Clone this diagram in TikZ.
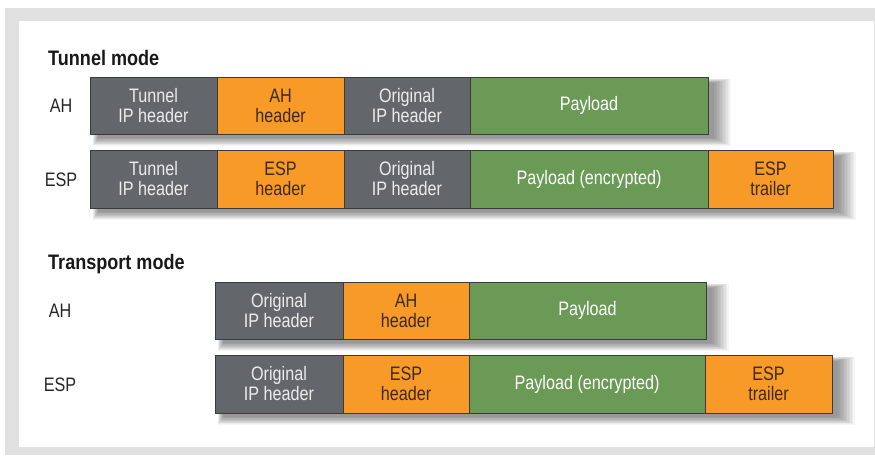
\documentclass[tikz,border=0pt]{standalone}
\usepackage{fontspec}
\setmainfont{Liberation Sans}[FakeStretch=0.83]
\newfontfamily\headfont{Liberation Sans}[FakeStretch=0.86]
\definecolor{frame}{HTML}{E0E1E0}
\definecolor{hdrgray}{HTML}{63666B}
\definecolor{ahorange}{HTML}{F79A28}
\definecolor{paygreen}{HTML}{6A9A56}
\definecolor{edge}{HTML}{3A3A3A}
\definecolor{lighttext}{HTML}{ECECEC}
\definecolor{darktext}{HTML}{3B2B1E}
\tikzset{
  cell/.style={draw=edge, line width=0.8pt, inner sep=0pt, align=center,
    font=\fontsize{19.5}{20}\selectfont},
  graycell/.style={cell, fill=hdrgray, text=lighttext},
  orangecell/.style={cell, fill=ahorange, text=darktext},
  greencell/.style={cell, fill=paygreen, text=white},
  rowlabel/.style={font=\fontsize{19.5}{20}\selectfont, text=black!85, inner sep=0pt},
  heading/.style={font=\headfont\bfseries\fontsize{21}{22}\selectfont, text=black!90, inner sep=0pt, anchor=base west}
}
\newcommand{\softshadow}[4]{% x1 y1 x2 y2
  \foreach \i in {0,...,11}{
    \fill[black, opacity=0.04] ({#1+8-\i*0.5},{#2+6-\i*0.4}) rectangle ({#3+6+\i*1.5},{#4+4+\i*0.7});
  }
}
\begin{document}
\begin{tikzpicture}[x=1pt,y=-1pt]
\useasboundingbox (0,0) rectangle (875,455);
\fill[white] (0,0) rectangle (875,455);
\fill[frame] (5,8) rectangle (875,455);
\fill[white] (19,21) rectangle (874,447);

% shadows
\softshadow{90}{77}{708}{134}
\softshadow{90}{150}{833}{208}
\softshadow{215}{282}{706}{339}
\softshadow{215}{355}{832}{413}

% headings
\node[heading] (h1) at (48,65) {Tunnel mode};
\node[heading] (h2) at (48,269) {Transport mode};

% row labels
\node[rowlabel] (l1) at (61,105.5) {AH};
\node[rowlabel] (l2) at (61,180) {ESP};
\node[rowlabel] (l3) at (60,311) {AH};
\node[rowlabel] (l4) at (60,385) {ESP};

% Tunnel AH
\node[graycell, minimum width=127, minimum height=57] (ta1) at (153.5,105.5) {Tunnel\\IP header};
\node[orangecell, minimum width=127, minimum height=57] (ta2) at (280.5,105.5) {AH\\header};
\node[graycell, minimum width=126, minimum height=57] (ta3) at (407,105.5) {Original\\IP header};
\node[greencell, minimum width=238, minimum height=57] (ta4) at (589,105.5) {Payload};

% Tunnel ESP
\node[graycell, minimum width=127, minimum height=58] (te1) at (153.5,179) {Tunnel\\IP header};
\node[orangecell, minimum width=127, minimum height=58] (te2) at (280.5,179) {ESP\\header};
\node[graycell, minimum width=126, minimum height=58] (te3) at (407,179) {Original\\IP header};
\node[greencell, minimum width=238, minimum height=58] (te4) at (589,179) {Payload (encrypted)};
\node[orangecell, minimum width=125, minimum height=58] (te5) at (770.5,179) {ESP\\trailer};

% Transport AH
\node[graycell, minimum width=128, minimum height=57] (pa1) at (279,310.5) {Original\\IP header};
\node[orangecell, minimum width=126, minimum height=57] (pa2) at (406,310.5) {AH\\header};
\node[greencell, minimum width=237, minimum height=57] (pa3) at (587.5,310.5) {Payload};

% Transport ESP
\node[graycell, minimum width=128, minimum height=58] (pe1) at (279,384) {Original\\IP header};
\node[orangecell, minimum width=126, minimum height=58] (pe2) at (406,384) {ESP\\header};
\node[greencell, minimum width=236, minimum height=58] (pe3) at (587,384) {Payload (encrypted)};
\node[orangecell, minimum width=127, minimum height=58] (pe4) at (768.5,384) {ESP\\trailer};
\end{tikzpicture}
\end{document}
